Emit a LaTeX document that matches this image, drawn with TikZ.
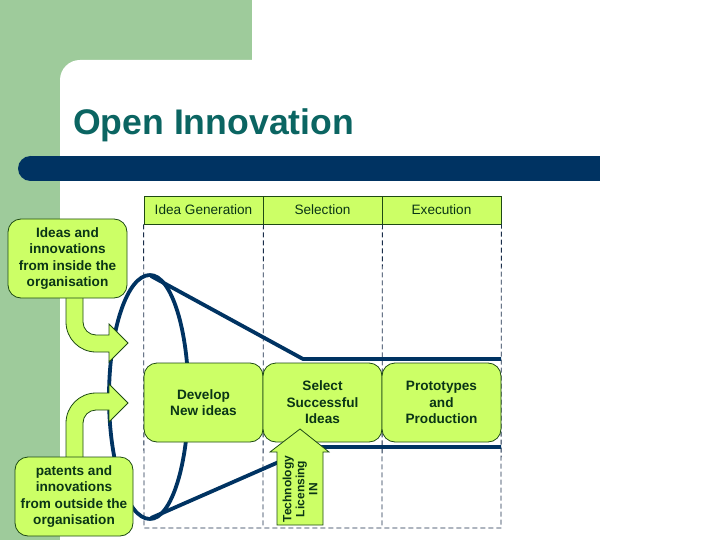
\documentclass[tikz,border=0pt]{standalone}
\usepackage{fontspec}
\setmainfont{Liberation Sans}
\definecolor{bggreen}{HTML}{9ECB9B}
\definecolor{navy}{HTML}{003362}
\definecolor{titleteal}{HTML}{0B6562}
\definecolor{boxfill}{HTML}{CCFF66}
\definecolor{boxline}{HTML}{1E4A14}
\definecolor{boxtext}{HTML}{0A3516}
\definecolor{dashcol}{HTML}{1A2E4A}
\begin{document}
\begin{tikzpicture}[x=1pt,y=-1pt,
  hdr/.style={draw=boxline,line width=0.8pt,fill=boxfill,minimum width=119pt,minimum height=28pt,inner sep=0pt,text=boxtext,font=\fontsize{13.6}{16}\selectfont},
  box/.style={draw=boxline,line width=0.8pt,fill=boxfill,rounded corners=13pt,minimum width=119pt,minimum height=79pt,inner sep=0pt,align=center,text=boxtext,font=\fontsize{13.6}{16.6}\selectfont\bfseries},
  dashline/.style={draw=dashcol,line width=0.8pt,dash pattern=on 5pt off 3pt},
  funnel/.style={draw=navy,line width=3.8pt,line join=round},
  blockarrow/.style={fill=boxfill,draw=boxline,line width=0.8pt,line join=miter}
]
\useasboundingbox (0,0) rectangle (720,540);
% background
\fill[white] (0,0) rectangle (720,540);
\fill[bggreen] (0,0) rectangle (252,80);
\fill[bggreen] (0,0) rectangle (80,540);
\fill[white,rounded corners=20pt] (60,60) rectangle (780,600);
% title and bar
\node[anchor=base west,inner sep=0pt,text=titleteal,font=\fontsize{35.6}{40}\selectfont\bfseries] (title) at (73,135) {Open Innovation};
\fill[navy] (30,156) rectangle (600,181);
\fill[navy] (30.5,168.5) circle (12.5);
% headers
\node[hdr] (h1) at (203.5,210) {Idea Generation};
\node[hdr] (h2) at (322.5,210) {Selection};
\node[hdr] (h3) at (441.5,210) {Execution};
% dashed grid
\coordinate (b1) at (144,528);
\coordinate (b4) at (501,528);
\draw[dashline] (h1.south west) -- (b1) -- (b4) -- (h3.south east);
\draw[dashline] (h1.south east) -- (263,528);
\draw[dashline] (h2.south east) -- (382,528);
% funnel
\coordinate (peak) at (150,275);
\coordinate (base) at (150,519);
\draw[funnel] (peak) arc[start angle=270,end angle=90,x radius=41,y radius=122];
\draw[funnel] (peak) arc[start angle=-90,end angle=90,x radius=38.5,y radius=122];
\coordinate (t1) at (303,359);
\coordinate (t2) at (501,359);
\coordinate (u1) at (313,447);
\coordinate (u2) at (501,447);
\draw[funnel] (151,276) -- (t1) -- (t2);
\draw[funnel] (151,518) -- (u1) -- (u2);
% curved block arrows
\filldraw[blockarrow] (66,296) -- (66,322) arc[start angle=180,end angle=90,radius=30] -- (109,352) -- (109,362) -- (128,343) -- (109,324) -- (109,335) -- (96,335) arc[start angle=90,end angle=180,radius=13] -- (83,296) -- cycle;
\filldraw[blockarrow] (66,459) -- (66,423) arc[start angle=180,end angle=270,radius=30] -- (109,393) -- (109,384) -- (128,403) -- (109,422) -- (109,410) -- (96,410) arc[start angle=270,end angle=180,radius=13] -- (83,423) -- (83,459) -- cycle;
% side boxes
\node[box] (inside) at (67.5,258.5) {Ideas and\\innovations\\from inside the\\organisation};
\node[box,minimum width=118pt] (outside) at (74,496.5) {patents and\\innovations\\from outside the\\organisation};
% stage boxes
\node[box] (dev) at (203.5,402.5) {Develop\\New ideas};
\node[box] (sel) at (322.5,402.5) {Select\\Successful\\Ideas};
\node[box] (proto) at (441.5,402.5) {Prototypes\\and\\Production};
% technology licensing arrow
\filldraw[blockarrow] (277,525) -- (277,452) -- (270,452) -- (300,429) -- (329,452) -- (323,452) -- (323,525) -- cycle;
\node[rotate=90,align=center,inner sep=0pt,text=boxtext,font=\fontsize{12}{13}\selectfont\bfseries] (tech) at (300,489) {Technology\\Licensing\\IN};
\end{tikzpicture}
\end{document}
